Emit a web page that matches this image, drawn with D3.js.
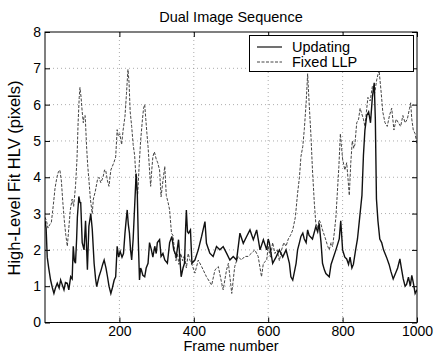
<!DOCTYPE html>
<html>
<head>
<meta charset="utf-8">
<script src="https://cdn.jsdelivr.net/npm/d3@7"></script>
<style>
  body { margin: 0; background: #fff; }
  svg { font-family: "Liberation Sans", Arial, Helvetica, sans-serif; }
</style>
</head>
<body>
<svg id="chart" width="437" height="358"></svg>
<script>
// values
const xTicks = [200, 400, 600, 800, 1000];
const yTicks = [0, 1, 2, 3, 4, 5, 6, 7, 8];
const seriesNames = ['Updating', 'Fixed LLP'];

const updatingFrames = [0, 3, 6, 10, 15, 20, 24, 28, 33, 38, 42, 46, 51, 55, 60, 64, 69, 73, 76, 79,
  82, 85, 87, 91, 94, 96, 100, 105, 109, 114, 118, 123, 127, 132, 136, 139, 145, 151, 155, 159,
  164, 168, 172, 177, 181, 186, 190, 194, 198, 202, 207, 211, 215, 218, 221, 224, 227, 230, 233, 237,
  241, 245, 248, 251, 254, 257, 259, 263, 268, 272, 277, 281, 286, 290, 295, 299, 302, 308, 312, 317,
  322, 329, 335, 341, 346, 353, 359, 363, 366, 371, 375, 378, 380, 383, 386, 391, 395, 403, 412, 421,
  430, 434, 443, 452, 461, 470, 479, 488, 497, 506, 515, 524, 533, 542, 551, 560, 569, 578, 587, 596,
  600, 603, 612, 621, 630, 639, 648, 657, 661, 666, 675, 679, 684, 688, 693, 697, 702, 706, 710, 719,
  728, 733, 737, 742, 746, 751, 755, 764, 769, 773, 782, 791, 795, 800, 806, 811, 816, 820, 825, 829,
  835, 840, 845, 849, 852, 856, 860, 865, 870, 875, 880, 885, 888, 891, 895, 900, 905, 910, 914, 918,
  925, 930, 936, 942, 948, 954, 958, 963, 968, 972, 977, 982, 986, 990, 995, 1000];
const updatingValues = [2.8, 2.6, 1.8, 1.5, 1.17, 0.95, 0.8, 0.95, 1.08, 0.95, 1.17, 1.05, 0.9, 1.1, 1.08, 0.9, 1.26, 1.2, 2.1, 1.7,
  1.63, 2.3, 2.9, 3.47, 3.3, 3.3, 2.2, 2.0, 2.8, 1.45, 2.65, 3.0, 2.57, 1.63, 1.2, 0.99, 1.26, 1.45, 1.6, 1.72,
  1.5, 1.26, 1.0, 0.8, 0.95, 1.17, 1.26, 2.1, 1.8, 1.96, 1.8, 1.9, 2.46, 2.8, 3.1, 2.7, 2.46, 2.0, 1.72, 2.3,
  3.2, 4.1, 3.6, 2.2, 1.17, 1.5, 1.45, 1.3, 1.26, 1.5, 1.63, 2.2, 2.0, 1.8, 2.1, 1.9, 2.2, 2.28, 1.82, 1.9,
  1.72, 1.63, 2.2, 2.37, 2.0, 1.82, 2.28, 1.7, 1.26, 1.5, 1.63, 2.6, 3.1, 2.5, 2.46, 2.55, 1.63, 1.72, 2.0, 2.37,
  2.78, 2.18, 1.91, 1.82, 2.09, 2.0, 2.09, 1.91, 1.72, 1.82, 1.72, 2.46, 2.18, 2.37, 2.55, 2.28, 2.55, 2.0, 2.28, 2.0,
  2.3, 2.2, 1.63, 1.8, 2.0, 1.8, 2.0, 1.63, 1.26, 1.17, 1.63, 2.0, 2.2, 2.37, 2.46, 2.3, 2.2, 2.55, 2.4, 2.3,
  2.64, 2.5, 2.73, 2.2, 1.63, 1.45, 1.35, 1.26, 1.6, 1.72, 2.0, 2.3, 2.8, 2.0, 1.8, 1.75, 1.6, 1.8, 1.5, 1.6,
  2.0, 2.3, 2.8, 3.2, 3.5, 4.6, 5.3, 5.7, 5.8, 5.5, 6.2, 6.6, 5.6, 3.4, 2.8, 2.3, 2.2, 2.0, 1.9, 1.8,
  1.6, 1.4, 1.2, 1.35, 1.5, 1.75, 1.5, 1.2, 1.0, 1.05, 1.25, 1.0, 1.3, 1.1, 0.8, 0.9];

const fixedFrames = [0, 4, 8, 13, 17, 22, 27, 32, 36, 40, 44, 48, 52, 56, 60, 64, 68, 73, 77, 82,
  86, 89, 92, 94, 97, 100, 103, 105, 108, 112, 115, 118, 122, 127, 130, 135, 141, 145, 150, 156,
  160, 163, 168, 172, 177, 181, 185, 190, 194, 197, 201, 206, 210, 215, 219, 223, 226, 229, 233, 237,
  241, 245, 249, 253, 257, 262, 265, 268, 271, 274, 277, 281, 284, 287, 290, 294, 299, 303, 308, 312,
  317, 322, 326, 331, 335, 340, 344, 348, 352, 356, 360, 365, 370, 375, 380, 385, 390, 394, 403, 412,
  421, 434, 448, 457, 466, 475, 479, 488, 493, 502, 510, 519, 528, 537, 546, 555, 564, 573, 582, 587,
  596, 600, 606, 612, 618, 624, 630, 636, 642, 648, 654, 660, 666, 673, 679, 684, 688, 693, 697, 702,
  706, 710, 715, 719, 724, 728, 733, 737, 742, 746, 751, 755, 760, 764, 769, 773, 778, 782, 786, 790,
  794, 800, 806, 811, 815, 818, 822, 826, 830, 833, 838, 843, 847, 850, 856, 860, 864, 868, 874, 880,
  886, 892, 898, 904, 908, 914, 920, 926, 932, 938, 944, 950, 956, 962, 968, 974, 980, 983, 986, 990,
  995, 1000];
const fixedValues = [2.9, 2.8, 2.6, 2.7, 2.75, 3.2, 3.7, 4.0, 4.15, 4.2, 3.9, 3.3, 2.8, 2.4, 2.1, 2.6, 3.1, 3.4, 3.2, 3.75,
  4.5, 5.5, 6.2, 6.47, 6.2, 5.8, 5.5, 5.68, 5.7, 4.8, 4.3, 3.93, 3.4, 3.0, 3.4, 3.6, 3.93, 4.0, 3.85, 4.0,
  4.2, 4.2, 3.9, 3.75, 4.2, 4.3, 4.4, 4.56, 5.31, 5.13, 5.2, 4.9, 5.3, 5.68, 6.3, 6.97, 6.6, 5.8, 5.4, 4.9,
  4.6, 3.9, 3.5, 4.3, 5.0, 5.6, 5.9, 6.0, 5.6, 5.2, 4.85, 4.2, 3.75, 4.2, 4.57, 4.7, 4.5, 4.4, 4.2, 3.46,
  3.9, 4.3, 3.5, 3.3, 3.1, 2.46, 2.4, 2.0, 1.7, 1.9, 1.6, 1.9, 1.7, 1.85, 1.5, 1.9, 1.7, 1.63, 1.36, 1.72,
  1.54, 1.26, 1.03, 1.45, 1.54, 1.08, 0.9, 1.45, 1.63, 0.8, 1.54, 1.82, 1.72, 1.82, 1.82, 1.91, 2.0, 1.82, 1.26, 1.63,
  1.72, 2.1, 1.8, 2.2, 1.9, 2.0, 1.7, 2.0, 2.2, 2.1, 2.3, 2.4, 2.55, 2.9, 3.56, 4.0, 4.57, 4.85, 5.31, 6.05,
  6.85, 6.05, 5.13, 4.2, 3.29, 2.73, 2.6, 2.83, 2.7, 2.55, 2.4, 2.27, 2.1, 2.0, 2.2, 2.09, 2.5, 2.9, 3.6, 4.3,
  5.2, 4.5, 4.2, 4.4, 3.9, 3.5, 4.4, 5.0, 4.8, 4.9, 5.5, 5.6, 5.9, 5.8, 5.6, 5.4, 5.8, 6.2, 6.1, 6.5,
  6.3, 6.7, 6.95, 6.3, 5.8, 5.5, 5.4, 5.7, 5.9, 5.3, 5.6, 5.5, 5.4, 5.7, 5.5, 5.6, 5.9, 6.05, 5.6, 5.3,
  5.2, 4.9];

const svg = d3.select('#chart');
const plotL = 45, plotR = 417, plotT = 32, plotB = 322.5;

const x = d3.scaleLinear().domain([0, 1000]).range([plotL, plotR]);
const y = d3.scaleLinear().domain([0, 8]).range([plotB, plotT]);

// dotted grid
const grid = svg.append('g').attr('stroke', '#888').attr('stroke-width', 0.7)
  .attr('stroke-dasharray', '1,3');
grid.selectAll('.gx').data(xTicks.slice(0, -1)).join('line')
  .attr('x1', d => x(d)).attr('x2', d => x(d)).attr('y1', plotT).attr('y2', plotB);
grid.selectAll('.gy').data(yTicks.slice(1, -1)).join('line')
  .attr('x1', plotL).attr('x2', plotR).attr('y1', d => y(d)).attr('y2', d => y(d));

// axes, MATLAB style inward ticks on all sides
const tick = 5;
svg.append('g').attr('transform', `translate(0,${plotB})`)
  .call(d3.axisBottom(x).tickValues(xTicks).tickFormat(d3.format('d'))
    .tickSizeInner(-tick).tickSizeOuter(0).tickPadding(4))
  .call(g => g.select('.domain').remove());
svg.append('g').attr('transform', `translate(0,${plotT})`)
  .call(d3.axisTop(x).tickValues(xTicks).tickSizeInner(-tick).tickSizeOuter(0).tickFormat(''))
  .call(g => g.select('.domain').remove());
svg.append('g').attr('transform', `translate(${plotL},0)`)
  .call(d3.axisLeft(y).tickValues(yTicks).tickFormat(d3.format('d'))
    .tickSizeInner(-tick).tickSizeOuter(0).tickPadding(4))
  .call(g => g.select('.domain').remove());
svg.append('g').attr('transform', `translate(${plotR},0)`)
  .call(d3.axisRight(y).tickValues(yTicks).tickSizeInner(-tick).tickSizeOuter(0).tickFormat(''))
  .call(g => g.select('.domain').remove());
svg.selectAll('.tick text').attr('font-size', 14).attr('fill', '#000')
  .attr('font-family', '"Liberation Sans", Arial, sans-serif');
svg.selectAll('.tick line').attr('stroke', '#000');

svg.append('defs').append('clipPath').attr('id', 'plot')
  .append('rect').attr('x', plotL).attr('y', plotT).attr('width', plotR - plotL).attr('height', plotB - plotT);

const line = d3.line().x(d => x(d[0])).y(d => y(d[1]));
const updating = updatingFrames.map((f, i) => [f, updatingValues[i]]);
const fixed = fixedFrames.map((f, i) => [f, fixedValues[i]]);

const lines = svg.append('g').attr('clip-path', 'url(#plot)').attr('fill', 'none');
lines.append('path').datum(fixed).attr('d', line)
  .attr('stroke', '#444').attr('stroke-width', 1).attr('stroke-dasharray', '3,1.5');
lines.append('path').datum(updating).attr('d', line)
  .attr('stroke', '#111').attr('stroke-width', 1.4);

// frame
svg.append('rect').attr('x', plotL).attr('y', plotT).attr('width', plotR - plotL).attr('height', plotB - plotT)
  .attr('fill', 'none').attr('stroke', '#000').attr('stroke-width', 1);

// legend
const lg = svg.append('g');
lg.append('rect').attr('x', 249.5).attr('y', 35.5).attr('width', 164).attr('height', 36)
  .attr('fill', '#fff').attr('stroke', '#000');
const styles = [{ c: '#111', w: 1.2, dash: null }, { c: '#444', w: 1, dash: '3,1.5' }];
seriesNames.forEach((name, i) => {
  const yy = 47 + i * 15;
  lg.append('line').attr('x1', 257).attr('x2', 282).attr('y1', yy).attr('y2', yy)
    .attr('stroke', styles[i].c).attr('stroke-width', styles[i].w)
    .attr('stroke-dasharray', styles[i].dash);
  lg.append('text').attr('x', 292).attr('y', yy + 5).attr('font-size', 14.5).text(name);
});

// titles
svg.append('text').attr('x', 231).attr('y', 22).attr('text-anchor', 'middle')
  .attr('font-size', 14.5).text('Dual Image Sequence');
svg.append('text').attr('x', 231).attr('y', 351).attr('text-anchor', 'middle')
  .attr('font-size', 14.5).text('Frame number');
svg.append('text').attr('transform', `translate(20,178) rotate(-90)`).attr('text-anchor', 'middle')
  .attr('font-size', 16.5).text('High-Level Fit HLV (pixels)');
</script>
</body>
</html>
